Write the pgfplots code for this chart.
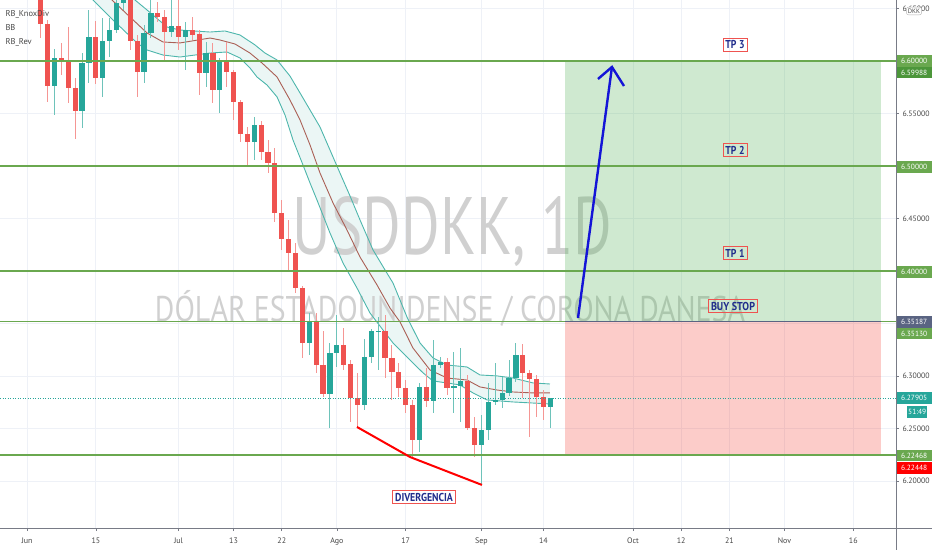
\documentclass[border=0pt]{standalone}
\usepackage{fontspec}
\setmainfont{PT Sans}
\usepackage{graphicx}
\usepackage{pgfplots}
\pgfplotsset{compat=1.18}
\usepackage{pgfplotstable}
\usepgfplotslibrary{fillbetween}

\definecolor{upc}{RGB}{38,166,154}
\definecolor{dnc}{RGB}{239,83,80}
\definecolor{upw}{RGB}{110,195,186}
\definecolor{dnw}{RGB}{245,150,148}
\definecolor{lvl}{RGB}{106,168,79}
\definecolor{lvldark}{RGB}{76,150,58}
\definecolor{gridc}{RGB}{238,241,247}
\definecolor{bandfill}{RGB}{235,246,245}
\definecolor{bandln}{RGB}{77,182,172}
\definecolor{midc}{RGB}{170,95,85}
\definecolor{txtblue}{RGB}{33,45,140}
\definecolor{axisgray}{RGB}{120,123,134}
\definecolor{ticktxt}{RGB}{70,70,70}
\definecolor{wmgray}{RGB}{208,208,208}
\definecolor{posgreen}{RGB}{76,175,80}
\definecolor{posred}{RGB}{244,67,54}
\definecolor{slate}{RGB}{90,100,130}
\definecolor{arrowblue}{RGB}{20,20,215}

\newcommand\capbox[1]{\raisebox{0pt}[\fontcharht\font`D][0pt]{#1}}

% candles: index (trading day from 1 Jun), open, high, low, close
\pgfplotstableread{
i o h l c
2 6.6676 6.6771 6.6219 6.6353
3 6.6353 6.6391 6.5610 6.5762
5 6.6029 6.6172 6.5867 6.6010
6 6.5991 6.6324 6.5600 6.5743
7 6.5743 6.5838 6.5258 6.5524
10 6.6229 6.6381 6.5781 6.5838
15 6.6629 6.6724 6.6105 6.6191
16 6.6191 6.6248 6.5658 6.5896
19 6.6457 6.6562 6.6372 6.6419
20 6.6419 6.6486 6.6010 6.6276
22 6.6333 6.6629 6.6105 6.6229
24 6.6295 6.6419 6.6200 6.6248
25 6.6257 6.6295 6.5677 6.5886
27 6.6076 6.6172 6.5600 6.5724
29 6.5991 6.6181 6.5753 6.5896
30 6.5896 6.5915 6.5439 6.5610
31 6.5610 6.5629 6.5229 6.5305
32 6.5305 6.5372 6.5010 6.5229
34 6.5391 6.5429 6.5058 6.5134
35 6.5134 6.5248 6.4934 6.5029
36 6.5029 6.5172 6.4468 6.4553
37 6.4553 6.4677 6.4201 6.4306
38 6.4306 6.4487 6.4011 6.4172
39 6.4172 6.4268 6.3792 6.3839
40 6.3839 6.3858 6.3173 6.3316
42 6.3525 6.3601 6.3031 6.3106
43 6.3106 6.3430 6.2801 6.2830
46 6.3297 6.3458 6.3059 6.3106
47 6.3116 6.3154 6.2562 6.2792
48 6.2792 6.3031 6.2516 6.2725
52 6.3430 6.3582 6.2982 6.3173
53 6.3173 6.3297 6.2773 6.3040
54 6.3040 6.3125 6.2801 6.2887
55 6.2887 6.2963 6.2649 6.2725
56 6.2725 6.2773 6.2230 6.2392
58 6.2897 6.3078 6.2706 6.2763
61 6.3135 6.3173 6.2821 6.2887
64 6.2954 6.3011 6.2487 6.2506
65 6.2506 6.2611 6.2230 6.2344
72 6.3201 6.3306 6.2792 6.3031
73 6.3031 6.3059 6.2421 6.2973
74 6.2973 6.3011 6.2611 6.2801
75 6.2801 6.2868 6.2581 6.2706
}\down

\pgfplotstableread{
i o h l c
4 6.5762 6.6115 6.5486 6.6029
8 6.5524 6.6076 6.5362 6.5981
9 6.5981 6.6486 6.5791 6.6229
11 6.5838 6.6410 6.5658 6.6191
12 6.6191 6.6410 6.6038 6.6295
13 6.6295 6.6676 6.6267 6.6552
14 6.6552 6.6724 6.6486 6.6629
17 6.5896 6.6343 6.5791 6.6267
18 6.6267 6.6629 6.6219 6.6457
21 6.6276 6.6629 6.6229 6.6333
23 6.6229 6.6372 6.5915 6.6295
26 6.5886 6.6181 6.5753 6.6076
28 6.5724 6.6029 6.5505 6.5991
33 6.5229 6.5467 6.5058 6.5391
41 6.3316 6.3601 6.3201 6.3525
44 6.2830 6.3316 6.2506 6.3220
45 6.3220 6.3582 6.3087 6.3297
49 6.2725 6.3354 6.2678 6.3182
50 6.3182 6.3449 6.3125 6.3430
51 6.3420 6.3563 6.3059 6.3430
57 6.2392 6.2935 6.2278 6.2897
59 6.2763 6.3344 6.2649 6.3106
60 6.3106 6.3182 6.3078 6.3135
62 6.2887 6.3230 6.2649 6.2906
63 6.2906 6.3268 6.2562 6.2954
66 6.2344 6.2630 6.1964 6.2487
67 6.2487 6.2935 6.2392 6.2754
68 6.2754 6.3125 6.2725 6.2773
69 6.2773 6.2992 6.2697 6.2840
70 6.2840 6.3154 6.2811 6.2982
71 6.2982 6.3316 6.2944 6.3201
76 6.2706 6.2792 6.2506 6.27905
}\up

\pgfplotstableread{
i p
14.96 6.6629
15.68 6.6581
17.43 6.6486
20.33 6.6324
22.22 6.6295
26.58 6.6276
28.75 6.6286
30.93 6.6248
33.11 6.6153
34.56 6.6076
36.31 6.6010
38.19 6.5857
39.65 6.5696
41.10 6.5534
42.55 6.5372
44.00 6.5153
45.45 6.4934
46.91 6.4715
48.36 6.4487
50.25 6.4201
51.99 6.4011
53.15 6.3887
55.18 6.3563
57.07 6.3316
58.96 6.3173
60.99 6.3106
63.90 6.3087
65.78 6.3011
68.25 6.3002
70.58 6.2982
73.48 6.2935
75.95 6.2925
}\bandU

\pgfplotstableread{
i p
11.33 6.6676
12.34 6.6581
14.96 6.6419
17.43 6.6267
19.75 6.6181
22.22 6.6172
26.58 6.6219
28.03 6.6200
30.21 6.6162
32.38 6.6076
34.13 6.5981
36.31 6.5848
38.19 6.5629
39.65 6.5439
41.10 6.5201
42.55 6.4934
44.44 6.4649
46.47 6.4391
48.36 6.4134
50.83 6.3868
52.71 6.3649
54.17 6.3516
56.05 6.3268
58.52 6.3059
60.99 6.2982
63.90 6.2963
65.78 6.2897
68.25 6.2868
70.58 6.2849
73.48 6.2840
75.95 6.2840
}\bandM

\pgfplotstableread{
i p
8.42 6.6676
9.58 6.6581
12.49 6.6391
15.97 6.6172
17.43 6.6105
19.75 6.6057
22.22 6.6038
26.58 6.6076
29.04 6.6086
30.93 6.6029
32.38 6.5934
33.40 6.5848
34.85 6.5772
36.31 6.5658
37.47 6.5486
38.63 6.5248
40.08 6.5010
41.10 6.4839
42.11 6.4677
44.00 6.4363
45.89 6.4077
47.92 6.3839
49.81 6.3601
51.70 6.3439
53.15 6.3316
55.18 6.3182
57.51 6.3031
58.96 6.2954
60.99 6.2935
62.88 6.2916
64.77 6.2840
66.80 6.2773
70.58 6.2754
75.95 6.2735
}\bandL

\tikzset{
  pbox/.style={anchor=west, inner sep=0pt, minimum width=35bp, minimum height=11.5bp,
    text=white, font=\fontsize{7.5}{8}\selectfont},
  lbl/.style={draw=dnc, line width=0.7bp, text=txtblue,
    font=\bfseries\fontsize{11.5}{12}\selectfont, inner xsep=2.5bp, inner ysep=2.5bp},
}

\begin{document}
\begin{tikzpicture}
\begin{axis}[
  at={(0bp,22bp)}, anchor=south west, scale only axis,
  width=896bp, height=528bp,
  xmin=-3.921, xmax=126.2, ymin=6.1554, ymax=6.6581,
  axis x line*=bottom, axis y line*=right,
  axis line style={draw=axisgray, line width=0.8bp},
  tick align=outside, major tick length=3bp,
  tick style={draw=axisgray, line width=0.6bp},
  xtick={0,10,22,30,37,45,55,66,75,88,95,102,110,120},
  xticklabels={Jun,15,Jul,13,22,Ago,17,Sep,14,Oct,12,21,Nov,16},
  ytick={6.20,6.25,6.30,6.45,6.55,6.65},
  extra y ticks={6.35,6.40,6.50,6.60},
  extra y tick labels={},
  yticklabel={\pgfmathprintnumber[fixed,fixed zerofill,precision=5]{\tick}},
  /pgf/number format/assume math mode=true,
  ticklabel style={font=\fontsize{7.8}{9}\selectfont, text=ticktxt},
  xticklabel style={yshift=-3bp, font=\fontsize{8}{9}\selectfont},
  xmajorgrids, ymajorgrids,
  extra y tick style={grid=major},
  grid style={draw=gridc, line width=0.8bp},
]
% watermark
\node[anchor=south, inner sep=0pt, text=wmgray] at (axis cs:61.79,6.4153)
  {\resizebox{319bp}{57bp}{\fontsize{80}{80}\selectfont\capbox{USDDKK, 1D}}};
\node[anchor=south, inner sep=0pt, text=wmgray] at (axis cs:61.43,6.3516)
  {\resizebox{590bp}{25bp}{\fontsize{35}{35}\selectfont\capbox{DÓLAR ESTADOUNIDENSE / CORONA DANESA}}};

% long position zones
\addplot[draw=none, fill=posgreen, fill opacity=0.27] coordinates
  {(78.13,6.35187) (124.02,6.35187) (124.02,6.60) (78.13,6.60) (78.13,6.35187)};
\addplot[draw=none, fill=posred, fill opacity=0.27] coordinates
  {(78.13,6.22468) (124.02,6.22468) (124.02,6.35187) (78.13,6.35187) (78.13,6.22468)};

% bands
\addplot[draw=none, name path=U] table[x=i, y=p] {\bandU};
\addplot[draw=none, name path=L] table[x=i, y=p] {\bandL};
\addplot[bandfill] fill between[of=U and L];
\addplot[bandln, line width=0.9bp] table[x=i, y=p] {\bandU};
\addplot[bandln, line width=0.9bp] table[x=i, y=p] {\bandL};
\addplot[midc, line width=0.9bp] table[x=i, y=p] {\bandM};

% wicks
\addplot[draw=none, mark=none, error bars/.cd, y dir=both, y explicit, error mark=none,
  error bar style={draw=dnw, line width=1bp}]
  table[x=i, y expr={(\thisrow{h}+\thisrow{l})/2}, y error expr={(\thisrow{h}-\thisrow{l})/2}] {\down};
\addplot[draw=none, mark=none, error bars/.cd, y dir=both, y explicit, error mark=none,
  error bar style={draw=upw, line width=1bp}]
  table[x=i, y expr={(\thisrow{h}+\thisrow{l})/2}, y error expr={(\thisrow{h}-\thisrow{l})/2}] {\up};
% bodies
\addplot[draw=none, mark=none, error bars/.cd, y dir=both, y explicit, error mark=none,
  error bar style={draw=dnc, line width=5.2bp}]
  table[x=i, y expr={(\thisrow{o}+\thisrow{c})/2}, y error expr={max(abs(\thisrow{o}-\thisrow{c})/2,0.0005)}] {\down};
\addplot[draw=none, mark=none, error bars/.cd, y dir=both, y explicit, error mark=none,
  error bar style={draw=upc, line width=5.2bp}]
  table[x=i, y expr={(\thisrow{o}+\thisrow{c})/2}, y error expr={max(abs(\thisrow{o}-\thisrow{c})/2,0.0005)}] {\up};

% levels
\addplot[lvl, line width=1.6bp] coordinates {(-3.921,6.60) (126.2,6.60)};
\addplot[lvl, line width=1.6bp] coordinates {(-3.921,6.50) (126.2,6.50)};
\addplot[lvl, line width=1.6bp] coordinates {(-3.921,6.40) (126.2,6.40)};
\addplot[lvl, line width=1.6bp] coordinates {(-3.921,6.35187) (126.2,6.35187)};
\addplot[lvl, line width=1.6bp] coordinates {(-3.921,6.22468) (126.2,6.22468)};
\addplot[slate, line width=1bp] coordinates {(78.13,6.35187) (124.02,6.35187)};
\addplot[upc, line width=0.6bp, dash pattern=on 1bp off 1.5bp] coordinates {(-3.921,6.27905) (126.2,6.27905)};

% divergence and target arrow
\addplot[red, line width=2bp] coordinates {(47.92,6.2516) (55.62,6.2230) (66.07,6.1964)};
\addplot[arrowblue, line width=2.4bp] coordinates {(80.02,6.3554) (84.95,6.5943)};
\addplot[arrowblue, line width=2.4bp] coordinates {(82.92,6.5829) (84.95,6.5943) (86.70,6.5762)};
\end{axis}

\draw[axisgray, line width=0.8bp] (0bp,22bp) -- (932bp,22bp);
\draw[axisgray, line width=0.8bp] (896bp,0bp) -- (896bp,550bp);

% indicator names
\node[anchor=west, font=\fontsize{8.5}{9}\selectfont, text=ticktxt] at (2bp,535.5bp) {RB\_KnoxDiv};
\node[anchor=west, font=\fontsize{8.5}{9}\selectfont, text=ticktxt] at (2bp,522bp) {BB};
\node[anchor=west, font=\fontsize{8.5}{9}\selectfont, text=ticktxt] at (2bp,508bp) {RB\_Rev};

% annotations
\node[lbl] at (735bp,505bp) {\scalebox{0.85}[1]{TP 3}};
\node[lbl] at (735bp,400bp) {\scalebox{0.85}[1]{TP 2}};
\node[lbl] at (735bp,297bp) {\scalebox{0.85}[1]{TP 1}};
\node[lbl] at (733bp,244bp) {\scalebox{0.88}[1]{BUY STOP}};
\node[lbl, fill=white] at (424bp,53bp) {\scalebox{0.86}[1]{DIVERGENCIA}};

% price tags on the scale
\node[pbox, fill=lvl] at (896.5bp,489bp) {6.60000};
\node[pbox, fill=lvldark] at (896.5bp,477.5bp) {6.59988};
\node[pbox, fill=lvl] at (896.5bp,383bp) {6.50000};
\node[pbox, fill=lvl] at (896.5bp,278bp) {6.40000};
\node[pbox, fill=slate] at (896.5bp,228bp) {6.35187};
\node[pbox, fill=lvl] at (896.5bp,216.5bp) {6.35130};
\node[pbox, fill=upc] at (896.5bp,152bp) {6.27905};
\node[pbox, fill=upc, minimum width=20bp] at (907bp,138bp) {51:49};
\node[pbox, fill=lvl] at (896.5bp,94.5bp) {6.22468};
\node[pbox, fill=red] at (896.5bp,82bp) {6.22448};
\node[draw=gray!60, rounded corners=2bp, fill=white, inner sep=1.5bp,
  font=\fontsize{6.5}{7}\selectfont, text=ticktxt] at (914bp,539bp) {DKK};

\pgfresetboundingbox
\useasboundingbox (0bp,0bp) rectangle (932bp,550bp);
\end{tikzpicture}
\end{document}
